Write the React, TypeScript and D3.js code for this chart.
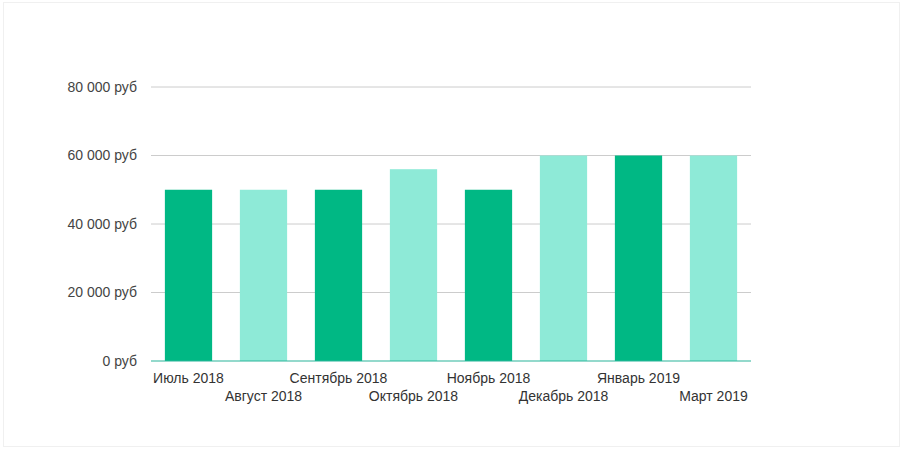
import React from "react";
import * as d3 from "d3";

const categories = [
  "Июль 2018",
  "Август 2018",
  "Сентябрь 2018",
  "Октябрь 2018",
  "Ноябрь 2018",
  "Декабрь 2018",
  "Январь 2019",
  "Март 2019",
];
const values = [50000, 50000, 50000, 56000, 50000, 60000, 60000, 60000];
const yTicks = [0, 20000, 40000, 60000, 80000];

const W = 902;
const H = 449;
const left = 151;
const right = 751;
const top = 87;
const bottom = 361;

const DARK = "#00b884";
const LIGHT = "#8eead7";

function fmt(v: number) {
  const s = String(v).replace(/\B(?=(\d{3})+(?!\d))/g, " ");
  return `${s} руб`;
}

export default function App() {
  const x = d3
    .scaleBand<string>()
    .domain(categories)
    .range([left, right])
    .paddingInner(0.37)
    .paddingOuter(0.185);
  const y = d3.scaleLinear().domain([0, 80000]).range([bottom, top]);
  const font = "'Liberation Sans', Arial, sans-serif";

  return (
    <div style={{ position: "fixed", left: 0, top: 0 }}>
      <svg width={W} height={H} style={{ display: "block", fontFamily: font }}>
        <rect x={0} y={0} width={W} height={H} fill="#fff" />
        <rect x={3.5} y={2.5} width={W - 6} height={H - 5} fill="none" stroke="#f0f0f0" />
        {yTicks.map((t) => (
          <g key={t}>
            {t !== 0 && (
              <line x1={left} x2={right} y1={y(t)} y2={y(t)} stroke="#cccccc" strokeWidth={1} />
            )}
            <text
              x={137}
              y={y(t)}
              dy="0.35em"
              textAnchor="end"
              fontSize={14}
              fill="#444"
            >
              {fmt(t)}
            </text>
          </g>
        ))}
        {categories.map((c, i) => (
          <rect
            key={c}
            x={x(c)}
            y={y(values[i])}
            width={x.bandwidth()}
            height={y(0) - y(values[i])}
            fill={i % 2 === 0 ? DARK : LIGHT}
          />
        ))}
        <line x1={left} x2={right} y1={y(0)} y2={y(0)} stroke="#2ab39a" strokeWidth={1.2} />
        {categories.map((c, i) => (
          <text
            key={c}
            x={(x(c) as number) + x.bandwidth() / 2}
            y={i % 2 === 0 ? 382.5 : 401}
            textAnchor="middle"
            fontSize={14}
            fill="#333"
          >
            {c}
          </text>
        ))}
      </svg>
    </div>
  );
}
